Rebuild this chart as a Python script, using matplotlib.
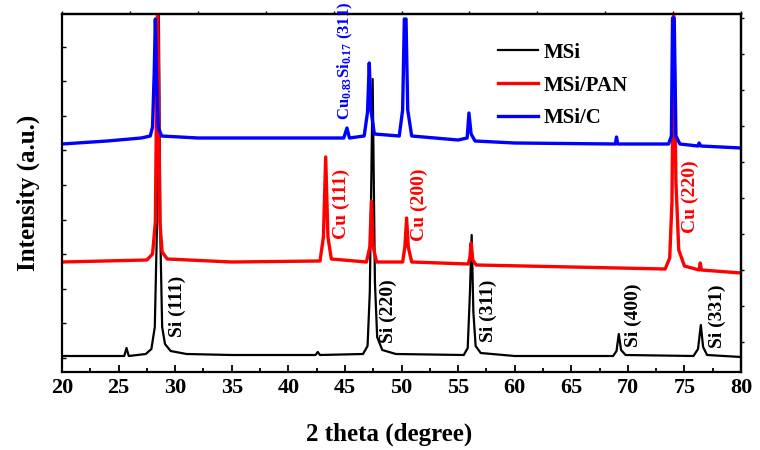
import matplotlib
matplotlib.use("Agg")
import matplotlib.pyplot as plt
import numpy as np

#%% data (intensity in arbitrary units)

# MSi
tt_msi = [20, 25.5, 25.7, 25.9, 27.4, 27.9, 28.2, 28.4, 28.55, 28.7, 28.85, 29.1, 29.6,
          31, 35, 42.4, 42.6, 42.8, 46.6, 47.0, 47.2, 47.45, 47.65, 47.85, 48.3, 49.5,
          55.5, 55.85, 56.05, 56.2, 56.35, 56.55, 57.0, 60, 68.7, 69.0, 69.2, 69.4, 69.8,
          75.8, 76.2, 76.45, 76.65, 77.0, 80]
int_msi = [16, 16, 24, 16, 18, 23, 45, 150, 375, 130, 45, 28, 21,
           18, 17, 17, 20, 17, 18, 26, 80, 293, 90, 35, 22, 18,
           17, 24, 80, 137, 60, 26, 19, 16, 16, 21, 38, 22, 17,
           16, 23, 47, 25, 17, 15]

# MSi/PAN
tt_pan = [20, 27.5, 28.0, 28.25, 28.45, 28.65, 28.85, 29.3, 35, 42.8, 43.1, 43.3, 43.5, 43.8,
          46.9, 47.2, 47.35, 47.5, 47.8, 50.1, 50.3, 50.45, 50.6, 50.9, 55.9, 56.05, 56.15,
          56.3, 56.6, 65, 73.3, 73.7, 73.9, 74.05, 74.25, 74.5, 75.0, 76.3, 76.4, 76.5, 80]
int_pan = [110, 112, 118, 150, 380, 150, 120, 113, 110, 111, 135, 215, 135, 113,
           110, 125, 171, 125, 110, 110, 125, 154, 125, 110, 108, 115, 129,
           112, 107, 105, 103, 114, 170, 360, 190, 122, 106, 102, 109, 102, 99]

# MSi/C
tt_c = [20, 24, 27, 27.8, 28.0, 28.15, 28.25, 28.35, 28.5, 28.8, 32, 40, 44.9, 45.18, 45.4,
        46.7, 47.0, 47.15, 47.3, 47.6, 49.8, 50.1, 50.25, 50.4, 50.55, 50.9, 55, 55.8, 55.96,
        56.15, 56.5, 60, 68.9, 69.0, 69.1, 73.6, 73.85, 73.95, 74.1, 74.25, 74.6, 76.2, 76.3,
        76.45, 80]
int_c = [228, 231, 234, 236, 245, 300, 353, 300, 245, 236, 234, 234, 234, 244, 234,
         236, 260, 309, 262, 238, 236, 262, 353, 353, 262, 236, 232, 234, 259,
         238, 231, 229, 228, 235, 228, 228, 236, 354, 354, 236, 228, 226, 229,
         226, 224]

# peak labels: text, 2theta, height of text start, colour
peak_labels = ["Si (111)", "Si (220)", "Si (311)", "Si (400)", "Si (331)",
               "Cu (111)", "Cu (200)", "Cu (220)",
               r"Cu$_{0.83}$Si$_{0.17}$ (311)"]
peak_tt = [30.15, 48.8, 57.7, 70.5, 77.9, 44.65, 51.6, 75.5, 45.0]
peak_h = [35, 29, 30, 25, 24, 133, 131, 139, 252]
peak_col = ["k", "k", "k", "k", "k", "r", "r", "r", "b"]
peak_fs = [14, 14, 14, 14, 14, 14, 14, 14, 12]

#%% plot

plt.rcParams['font.family'] = 'Liberation Serif'
plt.rcParams['font.weight'] = 'bold'
plt.rcParams['mathtext.fontset'] = 'custom'
plt.rcParams['mathtext.rm'] = 'Liberation Serif:bold'
plt.rcParams['mathtext.default'] = 'rm'

fig = plt.figure(figsize=(7.6, 4.5), dpi=100)
ax = fig.add_axes([62/760, 78/450, 679/760, 358/450])

ax.plot(tt_msi, int_msi, color='k', lw=1.6, label='MSi')
ax.plot(tt_pan, int_pan, color='r', lw=2.4, label='MSi/PAN')
ax.plot(tt_c, int_c, color='b', lw=2.4, label='MSi/C')

for s, x, h, c, fs in zip(peak_labels, peak_tt, peak_h, peak_col, peak_fs):
    ax.text(x, h, s, rotation=90, ha='center', va='bottom', color=c,
            fontsize=fs, fontweight='bold')

ax.set_xlim(20, 80)
ax.set_ylim(0, 358)
ax.set_xticks(np.arange(20, 81, 5))
ax.set_xticks(np.arange(22.5, 80, 5), minor=True)
ax.set_yticks(np.arange(14, 358, 34.6))
ax.set_yticklabels([])
ax.tick_params(axis='x', direction='in', length=5, width=1.3, labelsize=16, pad=4)
ax.tick_params(axis='x', which='minor', direction='in', length=3, width=1.3)
ax.tick_params(axis='y', direction='in', length=3, width=1.0)

top = ax.secondary_xaxis('top')
top.set_xticks(np.arange(20, 81, 6))
top.tick_params(direction='out', length=2, width=1.0, labeltop=False)
right = ax.secondary_yaxis('right')
right.set_yticks(np.arange(30, 358, 36))
right.tick_params(direction='out', length=2, width=1.0, labelright=False)
for a in (ax, top, right):
    for sp in a.spines.values():
        sp.set_linewidth(1.6)

ax.set_xlabel('2 theta (degree)', fontsize=18, fontweight='bold')
ax.xaxis.set_label_coords(0.482, -0.14)
ax.set_ylabel('Intensity (a.u.)', fontsize=18, fontweight='bold', labelpad=12)

ax.legend(loc='upper left', bbox_to_anchor=(0.642, 0.92), frameon=False,
          fontsize=15, handlelength=1.9, handletextpad=0.3, labelspacing=0.62,
          borderpad=0, borderaxespad=0)

fig.savefig('out.png', dpi=100)
